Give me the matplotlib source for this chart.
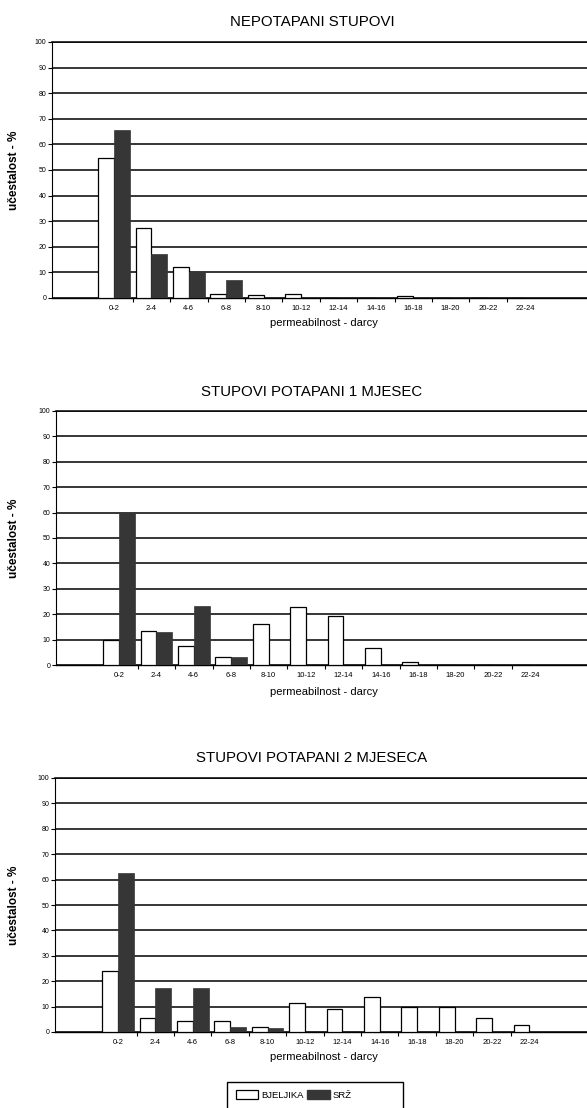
import matplotlib
matplotlib.use('Agg')
import matplotlib.pyplot as plt
from matplotlib.patches import Patch, Rectangle
import numpy as np

plt.rcParams['font.family'] = ['Liberation Sans', 'DejaVu Sans']

kategorije = ['0-2', '2-4', '4-6', '6-8', '8-10', '10-12', '12-14',
              '14-16', '16-18', '18-20', '20-22', '22-24']
naslovi = ['NEPOTAPANI STUPOVI', 'STUPOVI POTAPANI 1 MJESEC', 'STUPOVI POTAPANI 2 MJESECA']

# ucestalost - % (ocitano sa slike)
bjeljika_nepotapani = [54.5, 27.5, 12.0, 1.7, 1.0, 1.7, 0, 0, 0.8, 0, 0, 0]
srz_nepotapani = [65.5, 17.0, 10.0, 7.0, 0, 0, 0, 0, 0, 0, 0, 0]
bjeljika_1mj = [10.0, 13.5, 7.5, 3.3, 16.3, 22.7, 19.3, 6.8, 1.3, 0, 0, 0]
srz_1mj = [59.7, 13.0, 23.2, 3.0, 0, 0, 0, 0, 0, 0, 0, 0]
bjeljika_2mj = [24.0, 5.5, 4.5, 4.5, 2.0, 11.3, 8.9, 13.9, 9.8, 9.7, 5.6, 2.8]
srz_2mj = [62.5, 17.3, 17.3, 2.0, 1.7, 0, 0, 0, 0, 0, 0, 0]

W, H = 587, 1108
fig = plt.figure(figsize=(W / 100, H / 100), dpi=100)

tamna = '#363636'
korak = 37.4  # px po kategoriji
# (os y px, sredina 0-2 px, vrh px, dno px, naslov px, xlabel px)
panel_px = [(52, 114, 42, 298, 22, 323),
            (56, 119, 411, 665, 392, 692),
            (55, 118, 778, 1032, 758, 1057)]
podaci = [(bjeljika_nepotapani, srz_nepotapani),
          (bjeljika_1mj, srz_1mj),
          (bjeljika_2mj, srz_2mj)]

x = np.arange(len(kategorije))
sirina = 0.42

for (lx, c0, top, bot, ty, xl), (bj, sz), naslov in zip(panel_px, podaci, naslovi):
    ax = fig.add_axes([lx / W, 1 - bot / H, (W - lx) / W, (bot - top) / H])
    ax.bar(x - sirina / 2, bj, sirina, color='white', edgecolor='black', linewidth=0.9, zorder=3)
    ax.bar(x + sirina / 2, sz, sirina, color=tamna, edgecolor=tamna, linewidth=0.5, zorder=3)
    ax.set_xlim((lx - c0) / korak, (W - c0) / korak)
    ax.set_ylim(0, 100)
    ax.set_yticks(np.arange(0, 101, 10))
    ax.set_yticklabels([str(v) for v in range(0, 101, 10)], fontsize=5)
    ax.yaxis.grid(True, color='black', linewidth=1.1, zorder=0)
    ax.set_axisbelow(True)
    ax.set_xticks(x)
    ax.set_xticklabels(kategorije, fontsize=5.5)
    ax.set_xticks(np.arange(0.5, 11, 1), minor=True)
    ax.tick_params(axis='x', which='major', length=0, pad=5)
    ax.tick_params(axis='x', which='minor', length=3, width=0.8, direction='out')
    ax.tick_params(axis='y', length=3, width=0.8, pad=1)
    ax.spines['right'].set_visible(False)
    ax.spines['top'].set_linewidth(1.1)
    ax.spines['left'].set_linewidth(0.8)
    ax.spines['bottom'].set_linewidth(1.0)
    ax.set_ylabel('učestalost - %', fontsize=8.5, fontweight='bold')
    ax.yaxis.set_label_coords((20 - lx) / (W - lx), 0.5)
    ax.set_xlabel('permeabilnost - darcy', fontsize=8, va='center')
    ax.xaxis.set_label_coords((324 - lx) / (W - lx), -(xl - bot) / (bot - top))
    fig.text(312 / W, 1 - ty / H, naslov, ha='center', va='center', fontsize=10.8)

# okvir legende (donji rub odrezan kao na originalu)
fig.patches.append(Rectangle((227 / W, 1 - 1115 / H), (403 - 227) / W, 33 / H,
                             transform=fig.transFigure, facecolor='white',
                             edgecolor='black', linewidth=1.0))
handles = [Patch(facecolor='white', edgecolor='black', linewidth=0.9),
           Patch(facecolor=tamna, edgecolor=tamna)]
fig.legend(handles, ['BJELJIKA', 'SRŽ'], loc='center left',
           bbox_to_anchor=(229 / W, 1 - 1095 / H), ncol=2, fontsize=6.8,
           frameon=False, handlelength=2.4, handleheight=1.1,
           columnspacing=0.4, handletextpad=0.3, borderpad=0.2)

fig.savefig('out.png', dpi=100)
